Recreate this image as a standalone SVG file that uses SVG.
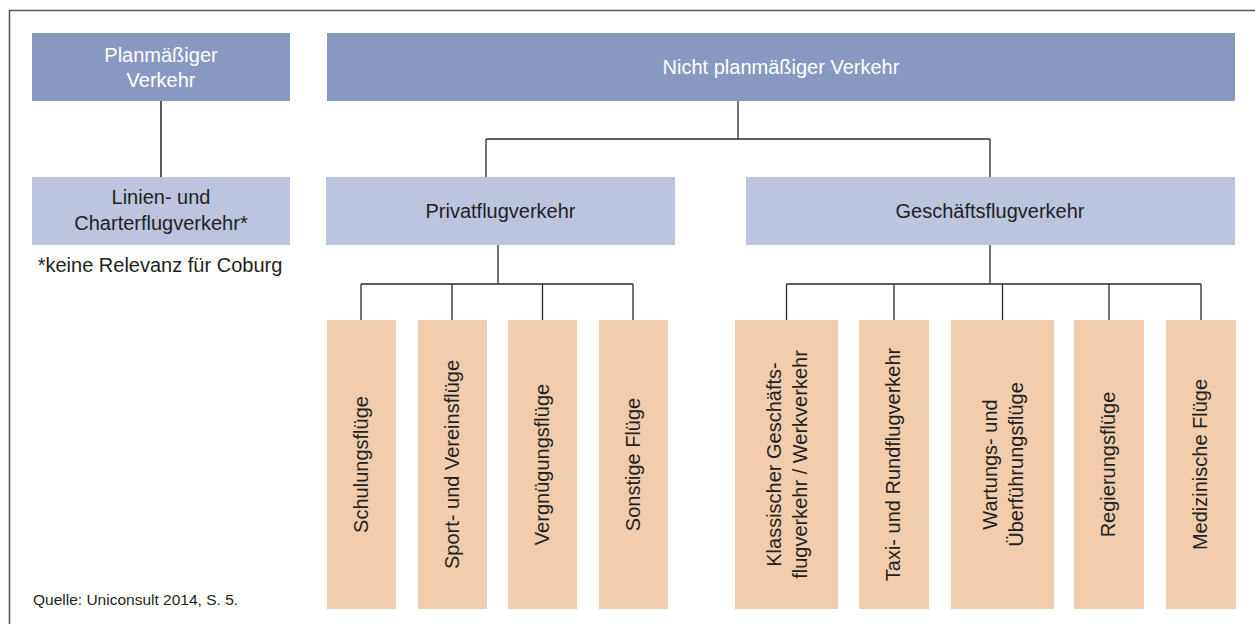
<svg xmlns="http://www.w3.org/2000/svg" width="1255" height="624" viewBox="0 0 1255 624">
  <style>
    .t { font-family: "Liberation Sans", Arial, sans-serif; font-size: 20px; fill: #231F20; text-anchor: middle; }
    .w { fill: #FFFFFF; }
    .dark { fill: #8899C1; }
    .light { fill: #BCC4DF; }
    .peach { fill: #F2CDAD; }
    .conn { stroke: #2B2B2B; stroke-width: 1.3; fill: none; }
    .conn2 { stroke: #5A5A5A; stroke-width: 2; fill: none; }
    .frame { stroke: #5A5A5A; stroke-width: 1.6; fill: none; }
  </style>
  <rect width="1255" height="624" fill="#FFFFFF"/>
  <path class="frame" d="M9.5,624 V10.5 H1255"/>

  <g id="connectors">
    <path class="conn2" d="M161,101 V177"/>
    <path class="conn" d="M738,101 V139 M486,139 H990 M486,139 V177 M990,139 V177"/>
    <path class="conn" d="M498,245 V284 M361,284 H633 M361,284 V320 M452,284 V320 M542.5,284 V320 M633,284 V320"/>
    <path class="conn" d="M990,245 V284 M786.5,284 H1201 M786.5,284 V320 M894,284 V320 M1002.5,284 V320 M1109,284 V320 M1201,284 V320"/>
  </g>

  <g id="planmaessig">
    <rect class="dark" x="32" y="33" width="258" height="68"/>
    <text class="t w" x="161" y="62">Planmäßiger</text>
    <text class="t w" x="161" y="87">Verkehr</text>
  </g>
  <g id="nichtplanmaessig">
    <rect class="dark" x="327" y="33" width="908" height="68"/>
    <text class="t w" x="781" y="74">Nicht planmäßiger Verkehr</text>
  </g>
  <g id="linien">
    <rect class="light" x="32" y="177" width="258" height="68"/>
    <text class="t" x="161" y="204">Linien- und</text>
    <text class="t" x="161" y="230">Charterflugverkehr*</text>
  </g>
  <g id="fussnote">
    <text class="t" x="160" y="272">*keine Relevanz für Coburg</text>
  </g>
  <g id="privat">
    <rect class="light" x="326" y="177" width="349" height="68"/>
    <text class="t" x="500.5" y="218">Privatflugverkehr</text>
  </g>
  <g id="geschaeft">
    <rect class="light" x="746" y="177" width="489" height="68"/>
    <text class="t" x="990" y="218">Geschäftsflugverkehr</text>
  </g>

  <g id="schulung">
    <rect class="peach" x="327" y="320" width="69" height="289"/>
    <text class="t" transform="translate(361.5,464.5) rotate(-90)" x="0" y="6">Schulungsflüge</text>
  </g>
  <g id="sport">
    <rect class="peach" x="418" y="320" width="69" height="289"/>
    <text class="t" transform="translate(452.5,464.5) rotate(-90)" x="0" y="6">Sport- und Vereinsflüge</text>
  </g>
  <g id="vergnuegung">
    <rect class="peach" x="508" y="320" width="69" height="289"/>
    <text class="t" transform="translate(542.5,464.5) rotate(-90)" x="0" y="6">Vergnügungsflüge</text>
  </g>
  <g id="sonstige">
    <rect class="peach" x="599" y="320" width="69" height="289"/>
    <text class="t" transform="translate(633.5,464.5) rotate(-90)" x="0" y="6">Sonstige Flüge</text>
  </g>

  <g id="klassisch">
    <rect class="peach" x="735" y="320" width="103" height="289"/>
    <g transform="translate(786.5,464.5) rotate(-90)">
      <text class="t" x="0" y="-6">Klassischer Geschäfts-</text>
      <text class="t" x="0" y="20">flugverkehr / Werkverkehr</text>
    </g>
  </g>
  <g id="taxi">
    <rect class="peach" x="859" y="320" width="70" height="289"/>
    <text class="t" transform="translate(894,464.5) rotate(-90)" x="0" y="6">Taxi- und Rundflugverkehr</text>
  </g>
  <g id="wartung">
    <rect class="peach" x="951" y="320" width="103" height="289"/>
    <g transform="translate(1002.5,464.5) rotate(-90)">
      <text class="t" x="0" y="-6">Wartungs- und</text>
      <text class="t" x="0" y="20">Überführungsflüge</text>
    </g>
  </g>
  <g id="regierung">
    <rect class="peach" x="1074" y="320" width="70" height="289"/>
    <text class="t" transform="translate(1109,464.5) rotate(-90)" x="0" y="6">Regierungsflüge</text>
  </g>
  <g id="medizin">
    <rect class="peach" x="1166" y="320" width="70" height="289"/>
    <text class="t" transform="translate(1201,464.5) rotate(-90)" x="0" y="6">Medizinische Flüge</text>
  </g>

  <g id="quelle">
    <text x="33" y="605" style="font-family: 'Liberation Sans', Arial, sans-serif; font-size: 15.5px; fill: #231F20;">Quelle: Uniconsult 2014, S. 5.</text>
  </g>
</svg>
